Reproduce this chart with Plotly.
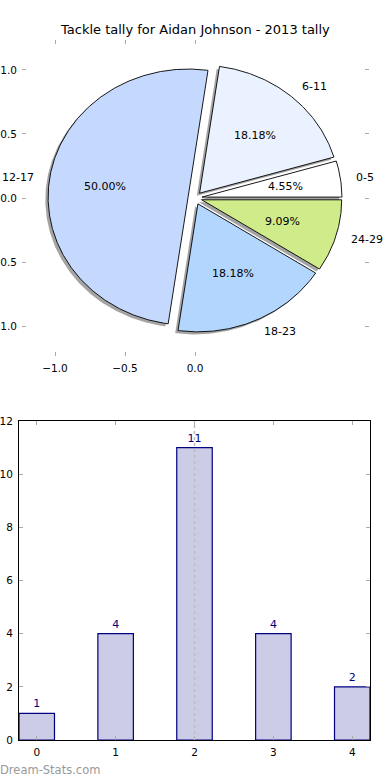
import numpy as np
import plotly.graph_objects as go

# ---- data ----
title = "Tackle tally for Aidan Johnson - 2013 tally"
categories = ["0-5", "6-11", "12-17", "18-23", "24-29"]
tackles = [1, 4, 11, 4, 2]
slice_colors = ["#FFFFFF", "#EBF2FF", "#C5D9FF", "#B3D6FF", "#CFEB8A"]
explode = [0.05, 0.05, 0.05, 0.05, 0.05]
bar_positions = [0, 1, 2, 3, 4]
pie_xticks = [-1.0, -0.5, 0.0]
pie_yticks = [-1.0, -0.5, 0.0, 0.5, 1.0]
bar_yticks = [0, 2, 4, 6, 8, 10, 12]

W, H = 390, 780
FONT = "DejaVu Sans"

def fmt(v):
    return ("\u2212" if v < 0 else "") + f"{abs(v):.1f}"

fig = go.Figure()

# ---- pie drawn as wedges in data coordinates ----
total = float(sum(tackles))
fracs = [v / total for v in tackles]
starts = np.concatenate([[0.0], np.cumsum(fracs)[:-1]]) * 360.0
ends = np.cumsum(fracs) * 360.0

def wedge(t1, t2, cx, cy):
    th = np.radians(np.linspace(t1, t2, max(int(t2 - t1) * 2, 8)))
    xs = np.concatenate([[cx], cx + np.cos(th), [cx]])
    ys = np.concatenate([[cy], cy + np.sin(th), [cy]])
    return xs, ys

centers = []
for t1, t2, ex in zip(starts, ends, explode):
    mid = np.radians((t1 + t2) / 2)
    centers.append((ex * np.cos(mid), ex * np.sin(mid), mid))

# shadows
for (cx, cy, mid), t1, t2 in zip(centers, starts, ends):
    xs, ys = wedge(t1, t2, cx - 0.02, cy - 0.02)
    fig.add_trace(go.Scatter(x=xs, y=ys, mode="lines", fill="toself",
                             fillcolor="rgba(90,90,90,0.55)", line=dict(width=0),
                             hoverinfo="skip", showlegend=False, xaxis="x", yaxis="y"))
# wedges
for (cx, cy, mid), t1, t2, col, cat in zip(centers, starts, ends, slice_colors, categories):
    xs, ys = wedge(t1, t2, cx, cy)
    fig.add_trace(go.Scatter(x=xs, y=ys, mode="lines", fill="toself",
                             fillcolor=col, line=dict(color="black", width=0.9),
                             name=cat, hoverinfo="name", showlegend=False,
                             xaxis="x", yaxis="y"))

annotations = []
for (cx, cy, mid), cat, fr in zip(centers, categories, fracs):
    lx = cx + 1.1 * np.cos(mid)
    ly = cy + 1.1 * np.sin(mid)
    annotations.append(dict(x=lx, y=ly, xref="x", yref="y", text=cat, showarrow=False,
                            xanchor="left" if lx > 0 else "right", yanchor="middle",
                            font=dict(family=FONT, size=11, color="black")))
    px = cx + 0.6 * np.cos(mid)
    py = cy + 0.6 * np.sin(mid)
    annotations.append(dict(x=px, y=py, xref="x", yref="y", text=f"{fr*100:.2f}%",
                            showarrow=False, xanchor="center", yanchor="middle",
                            font=dict(family=FONT, size=11, color="black")))

# ---- bar chart ----
fig.add_trace(go.Bar(x=bar_positions, y=tackles, width=0.45,
                     marker=dict(color="#CCCCE6", line=dict(color="#000080", width=1.2)),
                     text=[str(v) for v in tackles], textposition="outside",
                     textfont=dict(family=FONT, size=11, color="#000080"),
                     cliponaxis=False, showlegend=False, xaxis="x2", yaxis="y2"))

peak = bar_positions[int(np.argmax(tackles))]

annotations.append(dict(x=195 / W, y=1 - 30 / H, xref="paper", yref="paper", text=title,
                        showarrow=False, xanchor="center", yanchor="middle",
                        font=dict(family=FONT, size=13, color="black")))
annotations.append(dict(x=-0.004, y=1 - 770 / H, xref="paper", yref="paper",
                        text="Dream-Stats.com", showarrow=False,
                        xanchor="left", yanchor="middle",
                        font=dict(family=FONT, size=11.5, color="#999999")))

tick_common = dict(ticks="inside", ticklen=4, tickcolor="#aaaaaa", tickwidth=1,
                   showgrid=False, zeroline=False, automargin=False,
                   tickfont=dict(family=FONT, size=10.5, color="black"))

fig.update_layout(
    template="none",
    width=W, height=H, margin=dict(l=0, r=0, t=0, b=0, pad=0),
    paper_bgcolor="white", plot_bgcolor="white",
    xaxis=dict(domain=[22 / W, 369 / W], range=[-1.236, 1.243], anchor="y",
               tickvals=pie_xticks, ticktext=[fmt(v) for v in pie_xticks],
               showline=False, mirror="ticks", ticklabelstandoff=4, **tick_common),
    yaxis=dict(domain=[1 - 356 / H, 1 - 40 / H], range=[-1.234, 1.234], anchor="x",
               tickvals=pie_yticks, ticktext=[fmt(v) for v in pie_yticks],
               showline=False, mirror="ticks", ticklabelstandoff=4, **tick_common),
    xaxis2=dict(domain=[19 / W, 370 / W], range=[-0.225, 4.225], anchor="y2",
                tickvals=bar_positions, ticktext=[str(v) for v in bar_positions],
                showline=True, linecolor="black", linewidth=1, mirror="allticks",
                ticklabelstandoff=2, **tick_common),
    yaxis2=dict(domain=[1 - 740 / H, 1 - 421 / H], range=[0, 12], anchor="x2",
                tickvals=bar_yticks, ticktext=[str(v) for v in bar_yticks],
                showline=True, linecolor="black", linewidth=1, mirror="allticks",
                ticklabelstandoff=3, **tick_common),
    annotations=annotations,
    shapes=[dict(type="line", xref="x2", yref="y2 domain", x0=peak, x1=peak, y0=0, y1=1,
                 line=dict(color="#bbbbbb", width=1.5, dash="dot"), layer="above")],
)

fig.write_html("out.html", config={"displayModeBar": False},
               post_script="document.body.style.margin='0';document.body.style.overflow='hidden';")
